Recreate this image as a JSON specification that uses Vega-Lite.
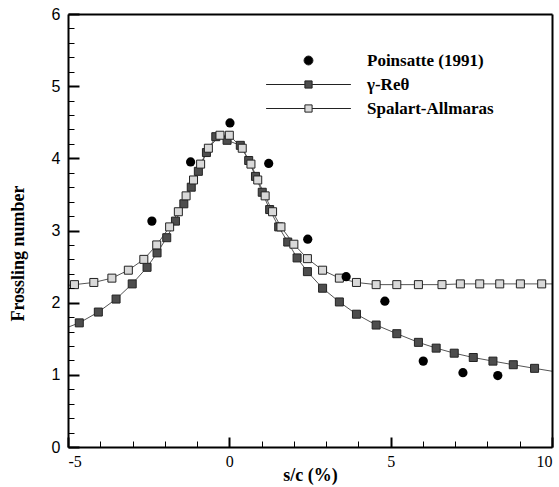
{
  "$schema": "https://vega.github.io/schema/vega-lite/v6.json",
  "width": 484,
  "height": 433,
  "autosize": {"type": "none"},
  "padding": {"left": 68, "top": 14, "right": 7, "bottom": 40},
  "config": {
    "view": {"stroke": null},
    "axis": {"grid": false}
  },
  "datasets": {
    "exp": [
      {"x": -2.4, "y": 3.13}, {"x": -1.2, "y": 3.95}, {"x": 0.02, "y": 4.49}, {"x": 1.22, "y": 3.93},
      {"x": 2.43, "y": 2.88}, {"x": 3.62, "y": 2.36}, {"x": 4.82, "y": 2.02}, {"x": 6.01, "y": 1.19},
      {"x": 7.24, "y": 1.03}, {"x": 8.32, "y": 0.99}
    ],
    "cfd": [
      {"series": "γ-Reθ", "x": -5, "y": 1.66, "m": 0},
      {"series": "γ-Reθ", "x": -4.65, "y": 1.72, "m": 1},
      {"series": "γ-Reθ", "x": -4.06, "y": 1.87, "m": 1},
      {"series": "γ-Reθ", "x": -3.51, "y": 2.05, "m": 1},
      {"series": "γ-Reθ", "x": -3.01, "y": 2.26, "m": 1},
      {"series": "γ-Reθ", "x": -2.55, "y": 2.49, "m": 1},
      {"series": "γ-Reθ", "x": -2.24, "y": 2.69, "m": 1},
      {"series": "γ-Reθ", "x": -1.94, "y": 2.90, "m": 1},
      {"series": "γ-Reθ", "x": -1.67, "y": 3.13, "m": 1},
      {"series": "γ-Reθ", "x": -1.41, "y": 3.37, "m": 1},
      {"series": "γ-Reθ", "x": -1.18, "y": 3.60, "m": 1},
      {"series": "γ-Reθ", "x": -0.96, "y": 3.82, "m": 1},
      {"series": "γ-Reθ", "x": -0.71, "y": 4.08, "m": 1},
      {"series": "γ-Reθ", "x": -0.42, "y": 4.30, "m": 1},
      {"series": "γ-Reθ", "x": -0.07, "y": 4.25, "m": 1},
      {"series": "γ-Reθ", "x": 0.34, "y": 4.18, "m": 1},
      {"series": "γ-Reθ", "x": 0.60, "y": 3.97, "m": 1},
      {"series": "γ-Reθ", "x": 0.81, "y": 3.75, "m": 1},
      {"series": "γ-Reθ", "x": 1.02, "y": 3.53, "m": 1},
      {"series": "γ-Reθ", "x": 1.25, "y": 3.29, "m": 1},
      {"series": "γ-Reθ", "x": 1.53, "y": 3.05, "m": 1},
      {"series": "γ-Reθ", "x": 1.81, "y": 2.84, "m": 1},
      {"series": "γ-Reθ", "x": 2.10, "y": 2.62, "m": 1},
      {"series": "γ-Reθ", "x": 2.42, "y": 2.43, "m": 1},
      {"series": "γ-Reθ", "x": 2.89, "y": 2.20, "m": 1},
      {"series": "γ-Reθ", "x": 3.41, "y": 2.01, "m": 1},
      {"series": "γ-Reθ", "x": 3.94, "y": 1.84, "m": 1},
      {"series": "γ-Reθ", "x": 4.55, "y": 1.69, "m": 1},
      {"series": "γ-Reθ", "x": 5.19, "y": 1.57, "m": 1},
      {"series": "γ-Reθ", "x": 5.86, "y": 1.45, "m": 1},
      {"series": "γ-Reθ", "x": 6.41, "y": 1.37, "m": 1},
      {"series": "γ-Reθ", "x": 6.97, "y": 1.30, "m": 1},
      {"series": "γ-Reθ", "x": 7.56, "y": 1.24, "m": 1},
      {"series": "γ-Reθ", "x": 8.17, "y": 1.19, "m": 1},
      {"series": "γ-Reθ", "x": 8.80, "y": 1.14, "m": 1},
      {"series": "γ-Reθ", "x": 9.46, "y": 1.09, "m": 1},
      {"series": "γ-Reθ", "x": 10, "y": 1.05, "m": 0},
      {"series": "Spalart-Allmaras", "x": -5, "y": 2.24, "m": 0},
      {"series": "Spalart-Allmaras", "x": -4.80, "y": 2.25, "m": 1},
      {"series": "Spalart-Allmaras", "x": -4.20, "y": 2.28, "m": 1},
      {"series": "Spalart-Allmaras", "x": -3.64, "y": 2.34, "m": 1},
      {"series": "Spalart-Allmaras", "x": -3.13, "y": 2.45, "m": 1},
      {"series": "Spalart-Allmaras", "x": -2.65, "y": 2.60, "m": 1},
      {"series": "Spalart-Allmaras", "x": -2.25, "y": 2.80, "m": 1},
      {"series": "Spalart-Allmaras", "x": -1.85, "y": 3.05, "m": 1},
      {"series": "Spalart-Allmaras", "x": -1.58, "y": 3.26, "m": 1},
      {"series": "Spalart-Allmaras", "x": -1.34, "y": 3.48, "m": 1},
      {"series": "Spalart-Allmaras", "x": -1.11, "y": 3.70, "m": 1},
      {"series": "Spalart-Allmaras", "x": -0.89, "y": 3.92, "m": 1},
      {"series": "Spalart-Allmaras", "x": -0.65, "y": 4.14, "m": 1},
      {"series": "Spalart-Allmaras", "x": -0.29, "y": 4.32, "m": 1},
      {"series": "Spalart-Allmaras", "x": 0.00, "y": 4.32, "m": 1},
      {"series": "Spalart-Allmaras", "x": 0.40, "y": 4.14, "m": 1},
      {"series": "Spalart-Allmaras", "x": 0.67, "y": 3.92, "m": 1},
      {"series": "Spalart-Allmaras", "x": 0.88, "y": 3.70, "m": 1},
      {"series": "Spalart-Allmaras", "x": 1.11, "y": 3.48, "m": 1},
      {"series": "Spalart-Allmaras", "x": 1.34, "y": 3.26, "m": 1},
      {"series": "Spalart-Allmaras", "x": 1.60, "y": 3.05, "m": 1},
      {"series": "Spalart-Allmaras", "x": 2.00, "y": 2.81, "m": 1},
      {"series": "Spalart-Allmaras", "x": 2.42, "y": 2.61, "m": 1},
      {"series": "Spalart-Allmaras", "x": 2.89, "y": 2.45, "m": 1},
      {"series": "Spalart-Allmaras", "x": 3.41, "y": 2.34, "m": 1},
      {"series": "Spalart-Allmaras", "x": 3.94, "y": 2.28, "m": 1},
      {"series": "Spalart-Allmaras", "x": 4.55, "y": 2.25, "m": 1},
      {"series": "Spalart-Allmaras", "x": 5.19, "y": 2.25, "m": 1},
      {"series": "Spalart-Allmaras", "x": 5.86, "y": 2.25, "m": 1},
      {"series": "Spalart-Allmaras", "x": 6.59, "y": 2.25, "m": 1},
      {"series": "Spalart-Allmaras", "x": 7.16, "y": 2.26, "m": 1},
      {"series": "Spalart-Allmaras", "x": 7.76, "y": 2.26, "m": 1},
      {"series": "Spalart-Allmaras", "x": 8.38, "y": 2.26, "m": 1},
      {"series": "Spalart-Allmaras", "x": 9.02, "y": 2.26, "m": 1},
      {"series": "Spalart-Allmaras", "x": 9.68, "y": 2.26, "m": 1},
      {"series": "Spalart-Allmaras", "x": 10, "y": 2.26, "m": 0}
    ],
    "names": [
      {"series": "Poinsatte (1991)"},
      {"series": "γ-Reθ"},
      {"series": "Spalart-Allmaras"}
    ]
  },
  "layer": [
    {
      "data": {"name": "cfd"},
      "mark": {"type": "line", "color": "#555555", "strokeWidth": 1},
      "encoding": {
        "x": {
          "field": "x", "type": "quantitative",
          "scale": {"domain": [-5, 10], "nice": false, "zero": false},
          "axis": {"orient": "bottom", "values": [-4, -3, -2, -1, 1, 2, 3, 4, 6, 7, 8, 9], "labels": false, "title": null, "domain": false, "ticks": true, "tickColor": "black", "tickOpacity": 1, "tickSize": -6, "tickWidth": 1, "zindex": 1}
        },
        "y": {
          "field": "y", "type": "quantitative",
          "scale": {"domain": [0, 6], "nice": false, "zero": false},
          "axis": {"orient": "left", "values": [0.2, 0.4, 0.6, 0.8, 1.2, 1.4, 1.6, 1.8, 2.2, 2.4, 2.6, 2.8, 3.2, 3.4, 3.6, 3.8, 4.2, 4.4, 4.6, 4.8, 5.2, 5.4, 5.6, 5.8], "labels": false, "title": null, "domain": false, "ticks": true, "tickColor": "black", "tickOpacity": 1, "tickSize": -6, "tickWidth": 1, "zindex": 1}
        },
        "detail": {"field": "series"}
      }
    },
    {
      "data": {"name": "cfd"},
      "transform": [{"filter": "datum.m == 1"}],
      "mark": {"type": "point", "shape": "square", "filled": true, "size": 64, "stroke": "#222222", "strokeWidth": 1, "opacity": 1},
      "encoding": {
        "x": {
          "field": "x", "type": "quantitative",
          "axis": {"orient": "bottom", "values": [-5, 0, 5, 10], "labelExpr": "'' + datum.value", "domain": true, "domainColor": "black", "domainWidth": 2, "ticks": true, "tickColor": "black", "tickOpacity": 1, "tickSize": -10, "tickWidth": 2, "zindex": 1, "labelFont": "Liberation Serif", "labelFontSize": 16, "labelColor": "black", "labelPadding": 16, "title": "s/c (%)", "titleFont": "Liberation Serif", "titleFontSize": 18, "titleFontWeight": "bold", "titleColor": "black", "titleY": 33, "titleBaseline": "alphabetic"}
        },
        "y": {
          "field": "y", "type": "quantitative",
          "axis": {"orient": "left", "values": [0, 1, 2, 3, 4, 5, 6], "format": "d", "domain": true, "domainColor": "black", "domainWidth": 2, "ticks": true, "tickColor": "black", "tickOpacity": 1, "tickSize": -11, "tickWidth": 2, "zindex": 1, "labelFont": "Liberation Sans", "labelFontSize": 16, "labelColor": "black", "labelPadding": 19, "title": "Frossling number", "titleFont": "Liberation Serif", "titleFontSize": 18, "titleFontWeight": "bold", "titleColor": "black", "titleX": -50, "titleY": 239, "titleAngle": -90, "titleBaseline": "middle", "titleAlign": "center"}
        },
        "fill": {
          "field": "series", "type": "nominal",
          "scale": {"domain": ["Poinsatte (1991)", "γ-Reθ", "Spalart-Allmaras"], "range": ["#000000", "#4d4d4d", "#d9d9d9"]}
        }
      }
    },
    {
      "data": {"name": "exp"},
      "mark": {"type": "point", "shape": "circle", "filled": true, "size": 85, "color": "#000000", "opacity": 1},
      "encoding": {
        "x": {"field": "x", "type": "quantitative", "axis": {"orient": "top", "labels": false, "ticks": false, "title": null, "domain": true, "domainColor": "black", "domainWidth": 2, "zindex": 1}},
        "y": {"field": "y", "type": "quantitative", "axis": {"orient": "right", "labels": false, "ticks": false, "title": null, "domain": true, "domainColor": "black", "domainWidth": 2, "zindex": 1}}
      }
    },
    {
      "data": {"name": "names"},
      "mark": {"type": "point", "filled": true, "opacity": 0, "stroke": "black", "strokeWidth": 1},
      "encoding": {
        "fill": {
          "field": "series", "type": "nominal",
          "scale": {"domain": ["Poinsatte (1991)", "γ-Reθ", "Spalart-Allmaras"], "range": ["#000000", "#4d4d4d", "#d9d9d9"]},
          "legend": {"orient": "none", "legendX": 232, "legendY": 38, "title": null, "symbolSize": 256, "labelOffset": 50, "labelFont": "Liberation Serif", "labelFontWeight": "bold", "labelFontSize": 17, "labelColor": "black", "rowPadding": 6, "padding": 0, "symbolStrokeColor": "black", "symbolStrokeWidth": 1, "symbolOpacity": 1}
        },
        "shape": {
          "field": "series", "type": "nominal",
          "scale": {"domain": ["Poinsatte (1991)", "γ-Reθ", "Spalart-Allmaras"], "range": ["M-0.56,0A0.56,0.56,0,1,1,0.56,0A0.56,0.56,0,1,1,-0.56,0Z", "M-5.3,0L-0.45,0M0.45,0L5.3,0M-0.45,-0.45L0.45,-0.45L0.45,0.45L-0.45,0.45Z", "M-5.3,0L-0.45,0M0.45,0L5.3,0M-0.45,-0.45L0.45,-0.45L0.45,0.45L-0.45,0.45Z"]},
          "legend": {"orient": "none", "legendX": 232, "legendY": 38, "title": null, "symbolSize": 256, "labelOffset": 50, "labelFont": "Liberation Serif", "labelFontWeight": "bold", "labelFontSize": 17, "labelColor": "black", "rowPadding": 6, "padding": 0, "symbolStrokeColor": "black", "symbolStrokeWidth": 1, "symbolOpacity": 1}
        }
      }
    }
  ],
  "resolve": {"axis": {"x": "independent", "y": "independent"}}
}
